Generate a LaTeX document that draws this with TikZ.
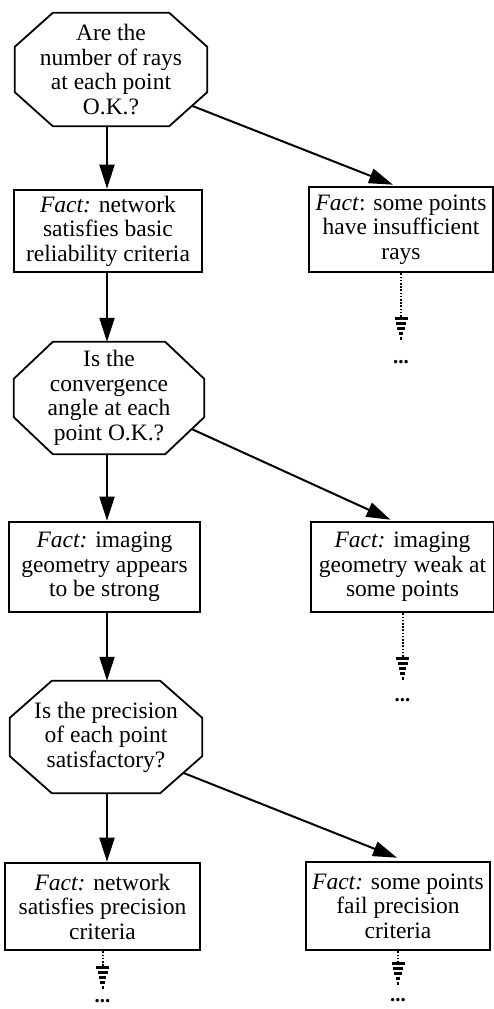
\documentclass[tikz,border=0pt]{standalone}
\usepackage{fontspec}
\setmainfont{Liberation Serif}
\usetikzlibrary{arrows.meta,calc}

% octagon outline around a node: #1 node, #2 horizontal cut, #3 vertical cut
\newcommand\octframe[3]{%
  \draw[line width=1.8pt, line join=miter]
    ($(#1.north west)+(#2,0)$) -- ($(#1.north east)+(-#2,0)$) --
    ($(#1.north east)+(0,#3)$) -- ($(#1.south east)+(0,-#3)$) --
    ($(#1.south east)+(-#2,0)$) -- ($(#1.south west)+(#2,0)$) --
    ($(#1.south west)+(0,-#3)$) -- ($(#1.north west)+(0,#3)$) -- cycle;}

% dotted continuation below a fact box: #1 node, #2 shaft length, #3 gap to the dots
\newcommand\onward[3]{%
  \draw[line width=2pt, dash pattern=on 1.6pt off 1.6pt] (#1.south) -- ++(0,#2) coordinate (#1-h);
  \foreach \dy/\hw in {0/6.5,5/5,10/3.6,15/2.3,20/1}
    \draw[line width=2.4pt] ($(#1-h)+(-\hw,\dy)$) -- ($(#1-h)+(\hw,\dy)$);
  \node[font=\fontsize{21}{21}\selectfont\bfseries, inner sep=0pt] (#1-more) at ($(#1-h)+(0,#3)$) {...};}

\begin{document}
\begin{tikzpicture}[x=1pt, y=-1pt,
  txt/.style={font=\fontsize{23.5}{24.5}\selectfont, align=center, inner sep=0pt},
  quest/.style={txt, minimum width=#1},
  factbox/.style={txt, draw, line width=2.6pt},
  link/.style={line width=2pt, -{Triangle[length=24pt,width=15pt]}}]

\useasboundingbox (0,0) rectangle (494,1009);

% questions
\node[quest=192, minimum height=113] (q1) at (111,69.5) {Are the\\number of rays\\at each point\\O.K.?};
\node[quest=190, minimum height=112] (q2) at (109,398) {Is the\\convergence\\angle at each\\point O.K.?};
\node[quest=192, minimum height=112] (q3) at (106,737) {Is the precision\\of each point\\satisfactory?};
\octframe{q1}{38}{34}
\octframe{q2}{39}{37}
\octframe{q3}{42}{37}

% facts, left column
\node[factbox, minimum width=188, minimum height=82] (l1) at (108,231) {\textit{Fact:} network\\satisfies basic\\reliability criteria};
\node[factbox, minimum width=191, minimum height=90] (l2) at (104.5,567) {\textit{Fact:} imaging\\geometry appears\\to be strong};
\node[factbox, minimum width=195, minimum height=87] (l3) at (102.5,906.5) {\textit{Fact:} network\\satisfies precision\\criteria};

% facts, right column
\node[factbox, minimum width=184, minimum height=85] (r1) at (401,229.5) {\textit{Fact}: some points\\have insufficient\\rays};
\node[factbox, minimum width=183, minimum height=90] (r2) at (402.5,567) {\textit{Fact:} imaging\\geometry weak at\\some points};
\node[factbox, minimum width=184, minimum height=88] (r3) at (398,906) {\textit{Fact:} some points\\fail precision\\criteria};

% "yes" branches
\draw[link] (q1.south -| 107,0) -- (l1.north -| 107,0);
\draw[link] (l1.south -| 107,0) -- (q2.north -| 107,0);
\draw[link] (q2.south -| 107,0) -- (l2.north -| 107,0);
\draw[link] (l2.south -| 107,0) -- (q3.north -| 107,0);
\draw[link] (q3.south -| 107,0) -- (l3.north -| 107,0);

% "no" branches from the lower right cut of each octagon
\coordinate (q1o) at ($($(q1.south east)+(0,-34)$)!0.4!($(q1.south east)+(-38,0)$)$);
\coordinate (q2o) at ($($(q2.south east)+(0,-37)$)!0.32!($(q2.south east)+(-39,0)$)$);
\coordinate (q3o) at ($($(q3.south east)+(0,-37)$)!0.45!($(q3.south east)+(-42,0)$)$);
\draw[link] (q1o) -- ($(r1.north)+(-8,-1)$);
\draw[link] (q2o) -- ($(r2.north)+(-12,-1)$);
\draw[link] (q3o) -- ($(r3.north)+(-1,-3)$);

% further steps
\onward{r1}{45}{44}
\onward{r2}{45}{42}
\onward{l3}{16}{34}
\onward{r3}{12}{37}
\end{tikzpicture}
\end{document}
